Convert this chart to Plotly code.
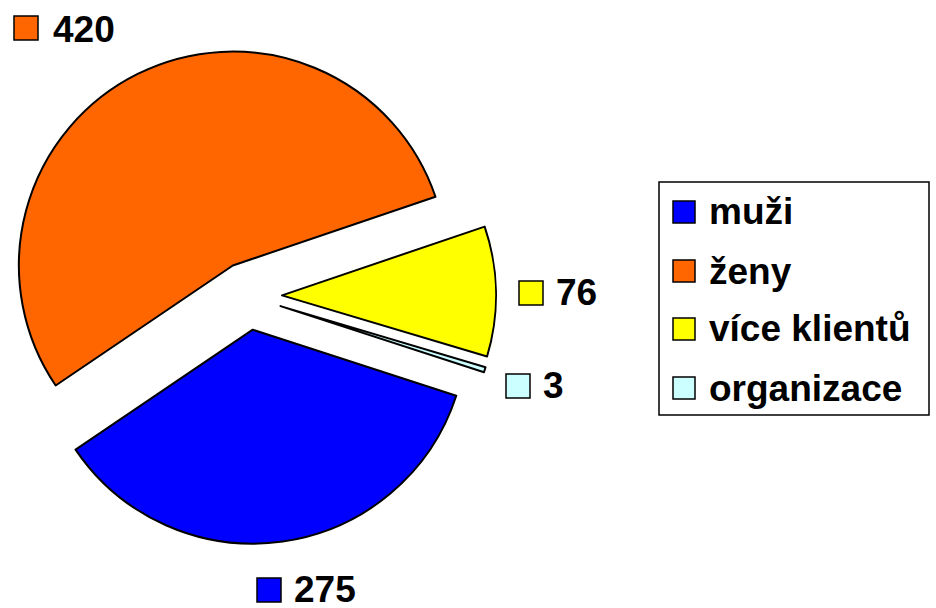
import plotly.graph_objects as go

# data
labels = ["muži", "ženy", "více klientů", "organizace"]
values = [275, 420, 76, 3]
colors = ["#0000FF", "#FF6600", "#FFFF00", "#CCFFFF"]

W, H = 936, 608
FONT = "Liberation Sans, Arial, sans-serif"


def px(x, y):
    # pixel position -> paper coords (margins are zero)
    return x / W, 1 - y / H


fig = go.Figure()
fig.add_trace(go.Pie(
    labels=labels,
    values=values,
    sort=False,
    direction="clockwise",
    rotation=108,
    pull=0.159,
    marker=dict(colors=colors, line=dict(color="black", width=2)),
    textinfo="none",
    hoverinfo="label+value",
    showlegend=False,
    domain=dict(x=[0, 496 / W], y=[64 / H, 560 / H]),
))

shapes = []
annotations = []

# value labels with small colour key (pixel positions of the key box / text)
label_pos = [(257, 578, 292, 589), (14, 16, 51, 29), (519, 281, 554, 293), (506, 374, 541, 386)]
for (kx, ky, tx, ty), v, c in zip(label_pos, values, colors):
    x0, y0 = px(kx, ky)
    x1, y1 = px(kx + 24, ky + 24)
    shapes.append(dict(type="rect", xref="paper", yref="paper", x0=x0, x1=x1, y0=y1, y1=y0,
                       fillcolor=c, line=dict(color="black", width=1.5)))
    ax, ay = px(tx, ty)
    annotations.append(dict(xref="paper", yref="paper", x=ax, y=ay, xanchor="left", yanchor="middle",
                            text="<b>%d</b>" % v, showarrow=False,
                            font=dict(family=FONT, size=37, color="black")))

# legend box
lx0, ly0 = px(659, 182)
lx1, ly1 = px(929, 415)
shapes.append(dict(type="rect", xref="paper", yref="paper", x0=lx0, x1=lx1, y0=ly1, y1=ly0,
                   fillcolor="white", line=dict(color="black", width=1.5), layer="below"))
row_y = [212, 271, 329, 388]
for ry, lab, c in zip(row_y, labels, colors):
    x0, y0 = px(673, ry - 11)
    x1, y1 = px(695, ry + 11)
    shapes.append(dict(type="rect", xref="paper", yref="paper", x0=x0, x1=x1, y0=y1, y1=y0,
                       fillcolor=c, line=dict(color="black", width=1.5)))
    ax, ay = px(707, ry)
    annotations.append(dict(xref="paper", yref="paper", x=ax, y=ay, xanchor="left", yanchor="middle",
                            text="<b>%s</b>" % lab, showarrow=False,
                            font=dict(family=FONT, size=37, color="black")))

fig.update_layout(
    width=W, height=H,
    margin=dict(l=0, r=0, t=0, b=0),
    paper_bgcolor="white",
    plot_bgcolor="white",
    shapes=shapes,
    annotations=annotations,
)

# drop the default 8px body margin so the figure fills the window
fig.write_html("out.html", config={"displayModeBar": False},
               post_script="document.body.style.margin='0px';")
